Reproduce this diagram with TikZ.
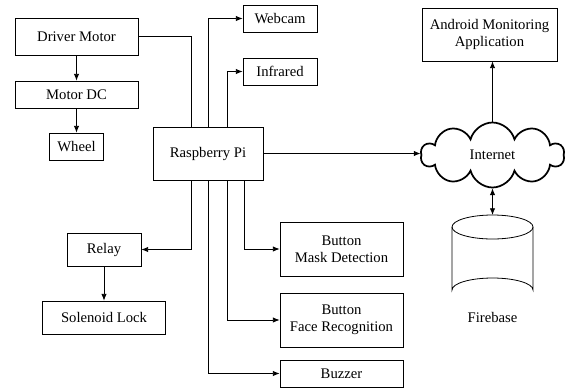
\documentclass[tikz,border=0pt]{standalone}
\usepackage{fontspec}
\setmainfont{Liberation Serif}
\newfontfamily\timesf{Liberation Serif}
\usetikzlibrary{arrows.meta,shapes.symbols,calc}
\begin{document}
\begin{tikzpicture}[x=0.75pt,y=-0.75pt,
  every node/.style={font=\timesf\fontsize{11}{13}\selectfont},
  box/.style={draw, line width=0.6pt, inner sep=1pt, align=center},
  conn/.style={line width=0.6pt},
  arr/.style={conn, -{Latex[length=5pt,width=4pt]}},
  darr/.style={conn, {Latex[length=5pt,width=4pt]}-{Latex[length=5pt,width=4pt]}}]
\useasboundingbox (0,0) rectangle (566,390);
\node[box, minimum width=123*0.75pt, minimum height=37*0.75pt] (dm) at (76.5,36.5) {Driver Motor};
\node[box, minimum width=123*0.75pt, minimum height=27*0.75pt] (mdc) at (76.5,94.5) {Motor DC};
\node[box, minimum width=54*0.75pt, minimum height=27*0.75pt] (wheel) at (76.5,146.5) {Wheel};
\node[box, minimum width=110*0.75pt, minimum height=53*0.75pt] (pi) at (208,153.5) {Raspberry Pi};
\node[box, minimum width=74*0.75pt, minimum height=27*0.75pt] (web) at (280,18.5) {Webcam};
\node[box, minimum width=74*0.75pt, minimum height=27*0.75pt] (ir) at (280,71.5) {Infrared};
\node[box, minimum width=74*0.75pt, minimum height=33*0.75pt] (relay) at (104,249.5) {Relay};
\node[box, minimum width=123*0.75pt, minimum height=33*0.75pt] (sol) at (104,317.5) {Solenoid Lock};
\node[box, minimum width=123*0.75pt, minimum height=54*0.75pt] (mask) at (341.5,249) {Button\\Mask Detection};
\node[box, minimum width=123*0.75pt, minimum height=54*0.75pt] (face) at (341.5,320) {Button\\Face Recognition};
\node[box, minimum width=123*0.75pt, minimum height=27*0.75pt] (buzz) at (341.5,373.5) {Buzzer};
\node[box, minimum width=135*0.75pt, minimum height=53*0.75pt] (app) at (489.5,34.5) {Android Monitoring\\Application};
\node[cloud, draw, line width=1.3pt, cloud puffs=10, cloud puff arc=150, aspect=2.2,
  minimum width=143*0.75pt, minimum height=65*0.75pt] (net) at (492.5,155) {Internet};
% Firebase cylinder
\coordinate (fbtop) at (492.5,215);
\draw[line width=0.6pt] (452,227) arc[start angle=180, end angle=540, x radius=40.5, y radius=12];
\draw[line width=0.6pt] (452,227) -- (452,290) arc[start angle=180, end angle=360, x radius=40.5, y radius=12] -- (533,227);
\node (fb) at (492.5,317) {Firebase};
% connectors
\draw[arr] (dm) -- (mdc);
\draw[arr] (mdc) -- (wheel);
\draw[arr] (relay) -- (sol);
\draw[conn] (dm.east) -| ([xshift=-17*0.75pt]pi.north);
\draw[arr] (pi.north) |- (web.west);
\draw[arr] ([xshift=19*0.75pt]pi.north) |- (ir.west);
\draw[arr] ([xshift=-17*0.75pt]pi.south) |- (relay.east);
\draw[arr] (pi.south) |- (buzz.west);
\draw[arr] ([xshift=19*0.75pt]pi.south) |- (face.west);
\draw[arr] ([xshift=36*0.75pt]pi.south) |- (mask.west);
\draw[arr] (pi.east) -- (pi.east -| net.west);
\draw[arr] (net.north) -- (app.south -| net.north);
\draw[darr] (net.south) -- (fbtop);
\end{tikzpicture}
\end{document}
